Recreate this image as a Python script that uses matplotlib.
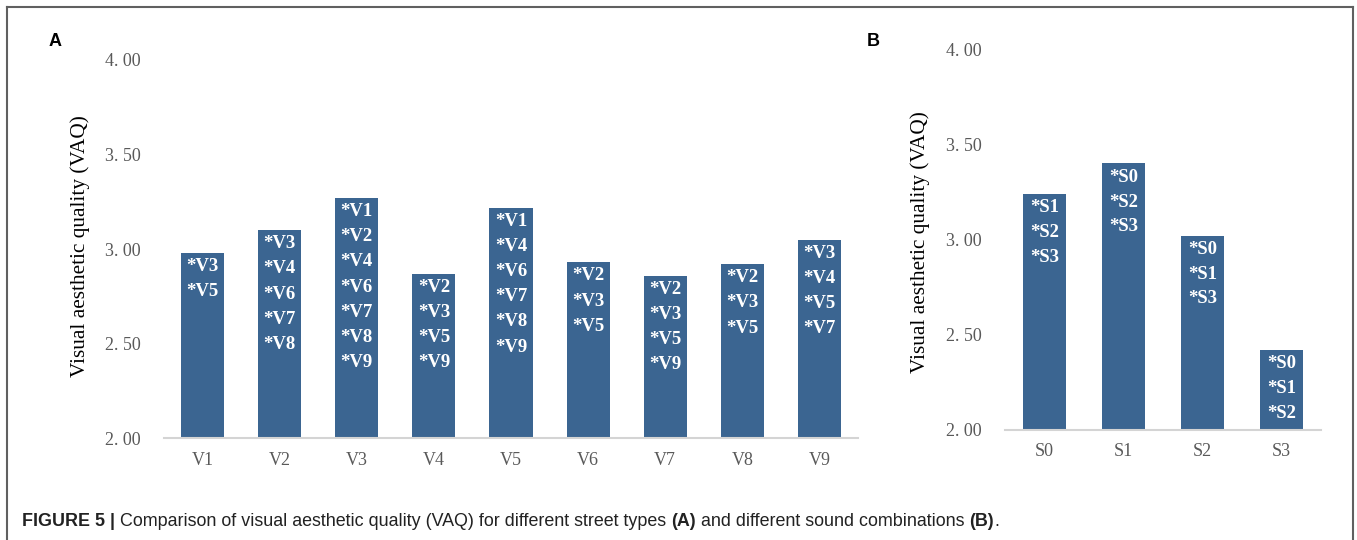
import matplotlib
matplotlib.use("Agg")
import matplotlib.pyplot as plt
from matplotlib.lines import Line2D

# ---- data -------------------------------------------------------------
street_types = ["V1", "V2", "V3", "V4", "V5", "V6", "V7", "V8", "V9"]
street_vaq = [2.98, 3.10, 3.27, 2.87, 3.22, 2.93, 2.86, 2.92, 3.05]
street_sig = [
    ["V3", "V5"],
    ["V3", "V4", "V6", "V7", "V8"],
    ["V1", "V2", "V4", "V6", "V7", "V8", "V9"],
    ["V2", "V3", "V5", "V9"],
    ["V1", "V4", "V6", "V7", "V8", "V9"],
    ["V2", "V3", "V5"],
    ["V2", "V3", "V5", "V9"],
    ["V2", "V3", "V5"],
    ["V3", "V4", "V5", "V7"],
]

sound_combos = ["S0", "S1", "S2", "S3"]
sound_vaq = [3.24, 3.40, 3.02, 2.42]
sound_sig = [
    ["S1", "S2", "S3"],
    ["S0", "S2", "S3"],
    ["S0", "S1", "S3"],
    ["S0", "S1", "S2"],
]

y_ticks = [2.0, 2.5, 3.0, 3.5, 4.0]
y_ticklabels = ["2. 00", "2. 50", "3. 00", "3. 50", "4. 00"]
y_title = "Visual aesthetic quality (VAQ)"

# ---- style ------------------------------------------------------------
BAR = "#3B6591"
TICK_GREY = "#595959"
SERIF = "Liberation Serif"
SANS = "Liberation Sans"
DPI = 100
W, H = 1357, 540

fig = plt.figure(figsize=(W / DPI, H / DPI), dpi=DPI)
fig.patch.set_facecolor("white")


def px_axes(x0, x1, ytop, ybot):
    return fig.add_axes([x0 / W, (H - ybot) / H, (x1 - x0) / W, (ybot - ytop) / H])


def draw_panel(ax, cats, vals, sig, width, step_px, first_px, label_xy):
    xs = list(range(len(cats)))
    ax.bar(xs, vals, width=width, color=BAR, zorder=2)
    ax.set_xlim(-0.5, len(cats) - 0.5)
    ax.set_ylim(2.0, 4.0)
    ax.set_yticks(y_ticks)
    ax.set_yticklabels(y_ticklabels, fontfamily=SERIF, fontsize=13, color=TICK_GREY)
    ax.set_xticks(xs)
    ax.set_xticklabels(cats, fontfamily=SERIF, fontsize=13, color=TICK_GREY)
    ax.tick_params(axis="y", length=0, pad=17)
    ax.tick_params(axis="x", length=0, pad=10)
    for s in ("top", "right", "left"):
        ax.spines[s].set_visible(False)
    ax.spines["bottom"].set_color("#D4D4D4")
    ax.spines["bottom"].set_linewidth(1.5)
    ax.spines["bottom"].set_zorder(3)
    ax.set_ylabel(y_title, fontfamily=SERIF, fontsize=15.3, color="black")
    ax.yaxis.set_label_coords(*label_xy)
    pt = 72.0 / DPI
    for x, v, names in zip(xs, vals, sig):
        for i, n in enumerate(names):
            ax.annotate("*" + n, xy=(x, v), xytext=(0, -(first_px + i * step_px) * pt),
                        textcoords="offset points", ha="center", va="center",
                        color="white", fontfamily=SERIF, fontweight="bold",
                        fontsize=13.5, zorder=4)


axA = px_axes(164, 858, 60, 438.3)
draw_panel(axA, street_types, street_vaq, street_sig, 0.56, 25.2, 13.5, (-0.107, 0.508))

axB = px_axes(1005, 1321, 49.3, 429.5)
draw_panel(axB, sound_combos, sound_vaq, sound_sig, 0.555, 24.7, 14.0, (-0.237, 0.494))

# panel letters
fig.text(55 / W, (H - 42) / H, "A", fontfamily=SANS, fontweight="bold", fontsize=13,
         ha="center", va="center")
fig.text(873 / W, (H - 42) / H, "B", fontfamily=SANS, fontweight="bold", fontsize=13,
         ha="center", va="center")

# outer frame (top, left, right)
frame_kw = dict(color="#606060", linewidth=1.5, transform=fig.transFigure)
fig.add_artist(Line2D([7 / W, 1352.5 / W], [(H - 7) / H, (H - 7) / H], **frame_kw))
fig.add_artist(Line2D([7 / W, 7 / W], [0, (H - 7) / H], **frame_kw))
fig.add_artist(Line2D([1352.5 / W, 1352.5 / W], [0, (H - 7) / H], **frame_kw))

# caption with mixed weights
caption = [
    ("FIGURE 5 | ", "bold"),
    ("Comparison of visual aesthetic quality (VAQ) for different street types ", "normal"),
    ("(A)", "bold"),
    (" and different sound combinations ", "normal"),
    ("(B)", "bold"),
    (".", "normal"),
]
fig.canvas.draw()
renderer = fig.canvas.get_renderer()
x_px = 22.0
for txt, wt in caption:
    t = fig.text(x_px / W, (H - 521) / H, txt, fontfamily=SANS, fontweight=wt,
                 fontsize=12.9, color="#222222", ha="left", va="center")
    bb = t.get_window_extent(renderer=renderer)
    x_px += bb.width

fig.savefig("out.png", dpi=DPI, facecolor="white")
